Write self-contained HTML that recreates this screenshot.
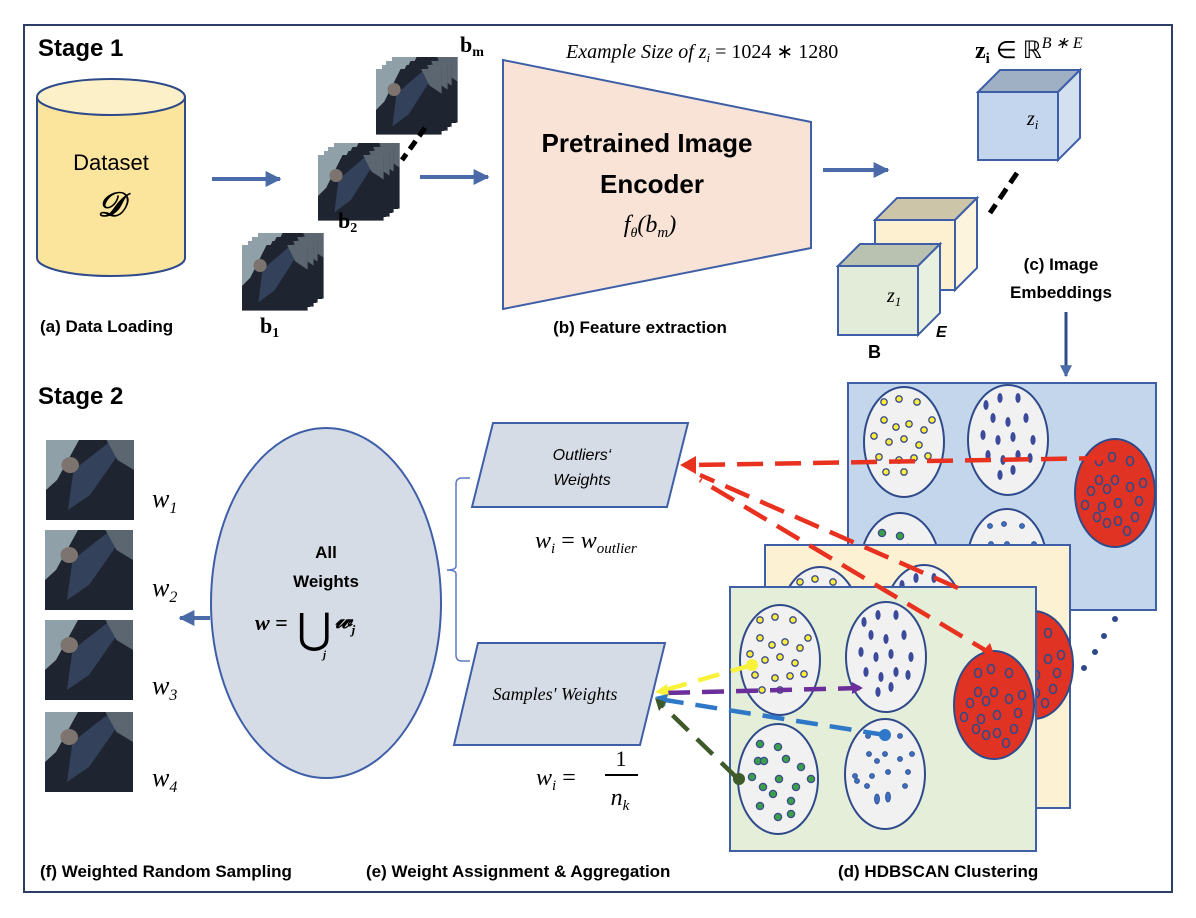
<!DOCTYPE html>
<html><head><meta charset="utf-8"><style>
html,body{margin:0;padding:0;background:#fff;}
svg{display:block;}
.b{font-family:"Liberation Sans",sans-serif;font-weight:bold;}
.s{font-family:"Liberation Serif",serif;font-style:italic;}
.r{font-family:"Liberation Serif",serif;}
</style></head><body>
<svg width="1196" height="918" viewBox="0 0 1196 918" xmlns="http://www.w3.org/2000/svg">
<defs>
<marker id="ah" viewBox="0 0 10 10" refX="9" refY="5" markerWidth="4" markerHeight="4" orient="auto"><path d="M0,0L10,5L0,10z" fill="#4a6aa8"/></marker>
<g id="ycl">
<ellipse rx="40" ry="55" fill="#f1f1f1" stroke="#2f4a8a" stroke-width="2"/>
<g fill="#ffef3a" stroke="#3a4a8a" stroke-width="1.3">
<circle cx="-20" cy="-40" r="3.2"/><circle cx="-5" cy="-43" r="3.2"/><circle cx="13" cy="-40" r="3.2"/><circle cx="-20" cy="-22" r="3.2"/><circle cx="-8" cy="-15" r="3.2"/><circle cx="5" cy="-18" r="3.2"/><circle cx="20" cy="-12" r="3.2"/><circle cx="28" cy="-22" r="3.2"/><circle cx="-30" cy="-6" r="3.2"/><circle cx="-15" cy="0" r="3.2"/><circle cx="0" cy="-3" r="3.2"/><circle cx="15" cy="3" r="3.2"/><circle cx="-25" cy="15" r="3.2"/><circle cx="-5" cy="18" r="3.2"/><circle cx="10" cy="16" r="3.2"/><circle cx="24" cy="14" r="3.2"/><circle cx="-18" cy="30" r="3.2"/><circle cx="0" cy="30" r="3.2"/></g></g>
<g id="ncl">
<ellipse rx="40" ry="55" fill="#f1f1f1" stroke="#2f4a8a" stroke-width="2"/>
<g fill="#3b4a9a">
<ellipse cx="-22" cy="-35" rx="2.6" ry="5"/><ellipse cx="-8" cy="-42" rx="2.6" ry="5"/><ellipse cx="10" cy="-42" rx="2.6" ry="5"/><ellipse cx="-15" cy="-22" rx="2.6" ry="5"/><ellipse cx="0" cy="-18" rx="2.6" ry="5"/><ellipse cx="18" cy="-22" rx="2.6" ry="5"/><ellipse cx="-25" cy="-5" rx="2.6" ry="5"/><ellipse cx="-10" cy="0" rx="2.6" ry="5"/><ellipse cx="5" cy="-3" rx="2.6" ry="5"/><ellipse cx="25" cy="0" rx="2.6" ry="5"/><ellipse cx="-20" cy="15" rx="2.6" ry="5"/><ellipse cx="-5" cy="20" rx="2.6" ry="5"/><ellipse cx="10" cy="15" rx="2.6" ry="5"/><ellipse cx="22" cy="18" rx="2.6" ry="5"/><ellipse cx="-8" cy="35" rx="2.6" ry="5"/><ellipse cx="5" cy="30" rx="2.6" ry="5"/></g></g>
<g id="gcl">
<ellipse rx="40" ry="55" fill="#f1f1f1" stroke="#2f4a8a" stroke-width="2"/>
<g fill="#3aa04a" stroke="#3a4a8a" stroke-width="1.3">
<circle cx="-18" cy="-35" r="3.6"/><circle cx="0" cy="-32" r="3.6"/><circle cx="-20" cy="-18" r="3.6"/><circle cx="-14" cy="-18" r="3.6"/><circle cx="8" cy="-20" r="3.6"/><circle cx="23" cy="-12" r="3.6"/><circle cx="-26" cy="-2" r="3.6"/><circle cx="1" cy="0" r="3.6"/><circle cx="33" cy="0" r="3.6"/><circle cx="-15" cy="8" r="3.6"/><circle cx="18" cy="8" r="3.6"/><circle cx="-5" cy="15" r="3.6"/><circle cx="13" cy="22" r="3.6"/><circle cx="-18" cy="27" r="3.6"/><circle cx="13" cy="35" r="3.6"/><circle cx="0" cy="38" r="3.6"/></g></g>
<g id="bcl">
<ellipse rx="40" ry="55" fill="#f1f1f1" stroke="#2f4a8a" stroke-width="2"/>
<g fill="#3c6fc0" stroke="#2f4a8a" stroke-width="0.8">
<circle cx="-17" cy="-38" r="2.5"/><circle cx="-3" cy="-40" r="2.5"/><circle cx="15" cy="-38" r="2.5"/><circle cx="-16" cy="-20" r="2.5"/><circle cx="0" cy="-20" r="2.5"/><circle cx="27" cy="-20" r="2.5"/><circle cx="-8" cy="-13" r="2.5"/><circle cx="15" cy="-15" r="2.5"/><circle cx="3" cy="-2" r="2.5"/><circle cx="23" cy="-2" r="2.5"/><circle cx="-30" cy="2" r="2.5"/><circle cx="-13" cy="2" r="2.5"/><circle cx="-28" cy="7" r="2.5"/><circle cx="-18" cy="12" r="2.5"/><circle cx="20" cy="12" r="2.5"/><ellipse cx="-8" cy="25" rx="2.5" ry="5"/><ellipse cx="3" cy="23" rx="2.5" ry="5"/></g></g>
<g id="rcl">
<ellipse rx="40" ry="54" fill="#e03324" stroke="#2f4a8a" stroke-width="2"/>
<g fill="none" stroke="#2f4a8a" stroke-width="1.6">
<ellipse cx="-16" cy="-32" rx="3.5" ry="4.5"/><ellipse cx="-3" cy="-36" rx="3.5" ry="4.5"/><ellipse cx="15" cy="-32" rx="3.5" ry="4.5"/><ellipse cx="-16" cy="-13" rx="3.5" ry="4.5"/><ellipse cx="0" cy="-13" rx="3.5" ry="4.5"/><ellipse cx="28" cy="-10" rx="3.5" ry="4.5"/><ellipse cx="-24" cy="-2" rx="3.5" ry="4.5"/><ellipse cx="-8" cy="-4" rx="3.5" ry="4.5"/><ellipse cx="15" cy="-6" rx="3.5" ry="4.5"/><ellipse cx="-30" cy="12" rx="3.5" ry="4.5"/><ellipse cx="-13" cy="14" rx="3.5" ry="4.5"/><ellipse cx="3" cy="10" rx="3.5" ry="4.5"/><ellipse cx="24" cy="8" rx="3.5" ry="4.5"/><ellipse cx="-18" cy="24" rx="3.5" ry="4.5"/><ellipse cx="-8" cy="30" rx="3.5" ry="4.5"/><ellipse cx="3" cy="28" rx="3.5" ry="4.5"/><ellipse cx="12" cy="38" rx="3.5" ry="4.5"/><ellipse cx="20" cy="24" rx="3.5" ry="4.5"/></g></g>
<g id="photo">
<rect width="80" height="80" fill="#1e2430"/>
<path d="M0,0 L30,0 L10,40 L0,50Z" fill="#8fa0a8"/>
<path d="M25,30 L60,0 L75,0 L40,55 L20,70Z" fill="#33415a"/>
<path d="M55,0 L80,0 L80,30 L65,20Z" fill="#5b6670"/>
<circle cx="22" cy="25" r="8" fill="#7d7470"/>
</g>
<g id="stack">
<rect x="18" y="-12" width="62" height="66" fill="#111"/><use href="#photo" transform="translate(16,-12) scale(0.82)"/>
<rect x="12" y="-8" width="62" height="66" fill="#111"/><use href="#photo" transform="translate(10,-8) scale(0.82)"/>
<rect x="6" y="-4" width="62" height="66" fill="#111"/><use href="#photo" transform="translate(6,-4) scale(0.82)"/>
<use href="#photo" transform="scale(0.82)"/>
</g>
</defs>

<rect x="24" y="25" width="1148" height="867" fill="none" stroke="#2c3e66" stroke-width="2"/>

<!-- Stage 1 -->
<text x="38" y="56" class="b" font-size="24">Stage 1</text>
<path d="M37,97 L37,258 A74,18 0 0 0 185,258 L185,97" fill="#fbe49c" stroke="#2f4a8a" stroke-width="2"/>
<ellipse cx="111" cy="97" rx="74" ry="18" fill="#fcf0c8" stroke="#2f4a8a" stroke-width="2"/>
<text x="111" y="170" text-anchor="middle" font-family="Liberation Sans,sans-serif" font-size="22">Dataset</text>
<text x="111" y="216" text-anchor="middle" class="s" font-weight="bold" font-size="34">𝒟</text>
<text x="40" y="332" class="b" font-size="17">(a) Data Loading</text>

<line x1="212" y1="179" x2="280" y2="179" stroke="#4a6aa8" stroke-width="4" marker-end="url(#ah)"/>
<line x1="420" y1="177" x2="488" y2="177" stroke="#4a6aa8" stroke-width="4" marker-end="url(#ah)"/>

<use href="#stack" transform="translate(242,245)"/>
<use href="#stack" transform="translate(318,155)"/>
<use href="#stack" transform="translate(376,69)"/>
<line x1="425" y1="128" x2="402" y2="160" stroke="#000" stroke-width="5" stroke-dasharray="10,6"/>
<text x="260" y="333" class="r" font-weight="bold" font-size="22">b<tspan font-size="14" dy="4">1</tspan></text>
<text x="338" y="228" class="r" font-weight="bold" font-size="22">b<tspan font-size="14" dy="4">2</tspan></text>
<text x="460" y="52" class="r" font-weight="bold" font-size="22">b<tspan font-size="14" dy="4">m</tspan></text>

<polygon points="503,60 811,122 811,248 503,309" fill="#f8e3d6" stroke="#3e5fa8" stroke-width="2"/>
<text x="647" y="152" text-anchor="middle" class="b" font-size="26">Pretrained Image</text>
<text x="652" y="193" text-anchor="middle" class="b" font-size="26">Encoder</text>
<text x="650" y="232" text-anchor="middle" class="s" font-size="24">f<tspan font-size="14" dy="5">θ</tspan><tspan dy="-5">(b</tspan><tspan font-size="15" dy="5">m</tspan><tspan dy="-5">)</tspan></text>
<text x="640" y="333" text-anchor="middle" class="b" font-size="17">(b) Feature extraction</text>
<text x="566" y="58" class="s" font-size="20">Example Size of z<tspan font-size="13" dy="4">i</tspan><tspan dy="-4" font-style="normal"> = 1024 ∗ 1280</tspan></text>

<line x1="823" y1="170" x2="888" y2="170" stroke="#4a6aa8" stroke-width="4" marker-end="url(#ah)"/>

<!-- cubes -->
<g stroke="#3e5fa8" stroke-width="2">
<polygon points="978,92 1000,70 1080,70 1058,92" fill="#9fb0c4"/>
<polygon points="1058,92 1080,70 1080,138 1058,160" fill="#d3e0f0"/>
<rect x="978" y="92" width="80" height="68" fill="#c3d6ee"/>
<polygon points="875,220 897,198 977,198 955,220" fill="#ccc5a8"/>
<polygon points="955,220 977,198 977,268 955,290" fill="#fcf4dc"/>
<rect x="875" y="220" width="80" height="70" fill="#fcf0d0"/>
<polygon points="838,266 860,244 940,244 918,266" fill="#b9c2b1"/>
<polygon points="918,266 940,244 940,313 918,335" fill="#e8f0e0"/>
<rect x="838" y="266" width="80" height="69" fill="#e2ecd8"/>
</g>
<line x1="1017" y1="173" x2="990" y2="213" stroke="#000" stroke-width="5" stroke-dasharray="12,7"/>
<text x="1027" y="125" class="s" font-size="20">z<tspan font-size="13" dy="4">i</tspan></text>
<text x="887" y="302" class="s" font-size="20">z<tspan font-size="13" dy="4">1</tspan></text>
<text x="868" y="358" class="b" font-size="18">B</text>
<text x="936" y="337" class="b" font-style="italic" font-size="16">E</text>
<text x="975" y="58" class="r" font-size="24"><tspan font-weight="bold">z</tspan><tspan font-weight="bold" font-size="15" dy="5">i</tspan><tspan dy="-5"> ∈ ℝ</tspan><tspan class="s" font-size="16" dy="-10">B ∗ E</tspan></text>
<text x="1061" y="270" text-anchor="middle" class="b" font-size="17">(c) Image</text>
<text x="1061" y="298" text-anchor="middle" class="b" font-size="17">Embeddings</text>
<line x1="1066" y1="312" x2="1066" y2="376" stroke="#2f4a8a" stroke-width="3" marker-end="url(#ah)"/>

<!-- Stage 2 -->
<text x="38" y="404" class="b" font-size="24">Stage 2</text>

<rect x="848" y="383" width="308" height="227" fill="#c3d6ec" stroke="#3e5fa8" stroke-width="2"/>
<use href="#ycl" transform="translate(904,442)"/>
<use href="#ncl" transform="translate(1008,440)"/>
<use href="#rcl" transform="translate(1115,493)"/>
<use href="#gcl" transform="translate(900,568)"/>
<use href="#bcl" transform="translate(1007,564)"/>
<rect x="765" y="545" width="305" height="263" fill="#fcf1d2" stroke="#3e5fa8" stroke-width="2"/>
<use href="#ycl" transform="translate(820,622)"/>
<use href="#ncl" transform="translate(924,620)"/>
<use href="#rcl" transform="translate(1033,665)"/>
<rect x="730" y="587" width="306" height="264" fill="#e4eed9" stroke="#3e5fa8" stroke-width="2"/>
<use href="#ycl" transform="translate(780,660)"/>
<use href="#ncl" transform="translate(886,657)"/>
<use href="#rcl" transform="translate(994,705)"/>
<use href="#gcl" transform="translate(778,779)"/>
<use href="#bcl" transform="translate(885,774)"/>
<g fill="#2f4a8a"><circle cx="1084" cy="668" r="3"/><circle cx="1095" cy="652" r="3"/><circle cx="1104" cy="636" r="3"/><circle cx="1115" cy="619" r="3"/></g>

<!-- parallelograms -->
<polygon points="493,423 688,423 667,507 472,507" fill="#d6dce6" stroke="#3e5fa8" stroke-width="2"/>
<text x="582" y="460" text-anchor="middle" font-family="Liberation Sans,sans-serif" font-style="italic" font-size="16">Outliers‘</text>
<text x="582" y="485" text-anchor="middle" font-family="Liberation Sans,sans-serif" font-style="italic" font-size="16">Weights</text>
<polygon points="478,643 665,643 640,745 454,745" fill="#d6dce6" stroke="#3e5fa8" stroke-width="2"/>
<text x="555" y="700" text-anchor="middle" class="s" font-size="18">Samples' Weights</text>
<text x="535" y="548" class="s" font-size="24">w<tspan font-size="15" dy="5">i</tspan><tspan dy="-5" font-style="normal"> = </tspan>w<tspan font-size="15" dy="5">outlier</tspan></text>
<text x="536" y="785" class="s" font-size="24">w<tspan font-size="15" dy="5">i</tspan><tspan dy="-5" font-style="normal"> =</tspan></text>
<text x="621" y="766" text-anchor="middle" class="r" font-size="22">1</text>
<line x1="605" y1="775" x2="638" y2="775" stroke="#000" stroke-width="2"/>
<text x="620" y="805" text-anchor="middle" class="s" font-size="24">n<tspan font-size="15" dy="5">k</tspan></text>

<path d="M470,478 L462,478 Q456,478 456,484 L456,566 Q456,570 447,570 Q456,570 456,574 L456,655 Q456,661 462,661 L470,661" fill="none" stroke="#5b7bc0" stroke-width="1.5"/>

<!-- ellipse -->
<ellipse cx="326" cy="603" rx="115" ry="175" fill="#d6dce6" stroke="#3e5fa8" stroke-width="2"/>
<text x="326" y="558" text-anchor="middle" class="b" font-size="17">All</text>
<text x="326" y="587" text-anchor="middle" class="b" font-size="17">Weights</text>
<text x="255" y="630" class="s" font-weight="bold" font-size="22">w <tspan font-style="normal">=</tspan></text>
<text x="297" y="643" class="r" font-size="42">⋃</text>
<text x="323" y="658" class="s" font-weight="bold" font-size="11">j</text>
<text x="335" y="628" class="s" font-weight="bold" font-size="24">𝓌<tspan font-size="13" dy="6">j</tspan></text>
<line x1="210" y1="618" x2="180" y2="618" stroke="#4a6aa8" stroke-width="4" marker-end="url(#ah)"/>

<!-- photos -->
<use href="#photo" transform="translate(46,440) scale(1.1,1)"/>
<use href="#photo" transform="translate(45,530) scale(1.1,1)"/>
<use href="#photo" transform="translate(45,620) scale(1.1,1)"/>
<use href="#photo" transform="translate(45,712) scale(1.1,1)"/>
<g class="s" font-size="26">
<text x="152" y="507">w<tspan font-size="16" dy="6">1</tspan></text>
<text x="152" y="596">w<tspan font-size="16" dy="6">2</tspan></text>
<text x="152" y="694">w<tspan font-size="16" dy="6">3</tspan></text>
<text x="152" y="786">w<tspan font-size="16" dy="6">4</tspan></text>
</g>

<!-- connectors -->
<g fill="none" stroke-width="4.5" stroke-linecap="butt">
<line x1="1105" y1="458" x2="695" y2="465" stroke="#e8321f" stroke-dasharray="26,12"/>
<line x1="958" y1="588" x2="700" y2="475" stroke="#e8321f" stroke-dasharray="26,12"/>
<line x1="995" y1="656" x2="700" y2="480" stroke="#e8321f" stroke-dasharray="26,12"/>
<line x1="752" y1="665" x2="665" y2="690" stroke="#f8f23a" stroke-dasharray="22,12"/>
<line x1="860" y1="688" x2="665" y2="693" stroke="#6b2e9a" stroke-dasharray="22,12"/>
<line x1="885" y1="735" x2="665" y2="700" stroke="#2f78c8" stroke-dasharray="22,12"/>
<line x1="737" y1="778" x2="662" y2="705" stroke="#3e5a2a" stroke-dasharray="22,12"/>
</g>
<polygon points="680,465 696,456 696,474" fill="#e8321f"/>
<polygon points="995,657 982,652 990,643" fill="#e8321f"/>
<polygon points="655,692 667,684 669,697" fill="#f8f23a"/>
<polygon points="863,688 852,682 852,694" fill="#6b2e9a"/>
<polygon points="655,697 668,694 665,706" fill="#2f78c8"/>
<polygon points="655,698 666,702 659,711" fill="#3e5a2a"/>
<circle cx="752" cy="665" r="6" fill="#f8f23a"/>
<circle cx="885" cy="735" r="6" fill="#2f78c8"/>
<circle cx="739" cy="779" r="6" fill="#3e5a2a"/>

<text x="40" y="877" class="b" font-size="17">(f) Weighted Random Sampling</text>
<text x="366" y="877" class="b" font-size="17">(e) Weight Assignment &amp; Aggregation</text>
<text x="838" y="877" class="b" font-size="17">(d) HDBSCAN Clustering</text>
</svg>
</body></html>
